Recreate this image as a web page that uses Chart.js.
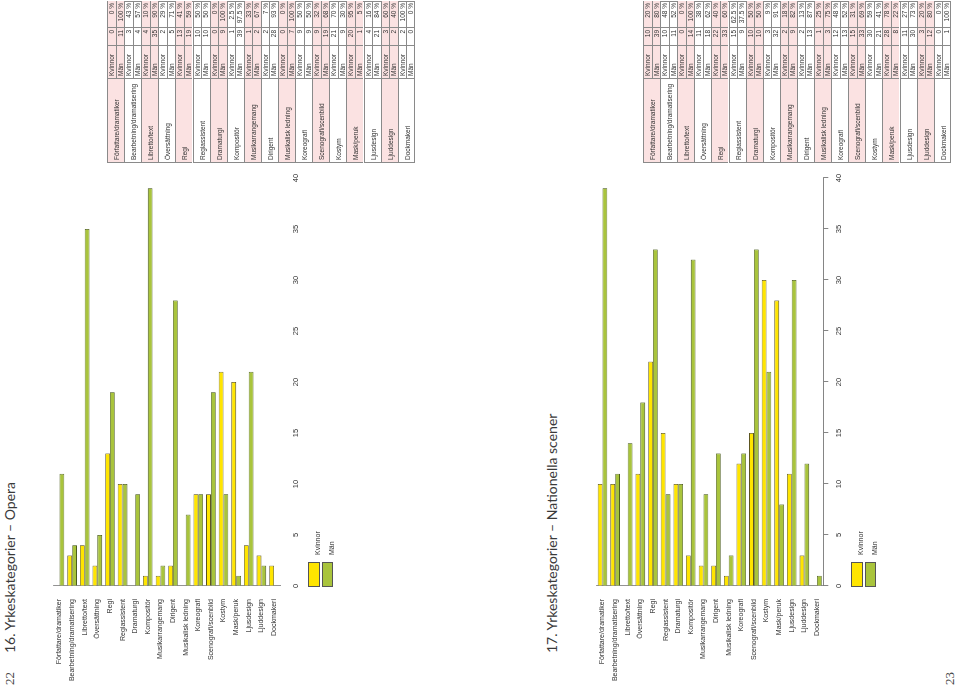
<!DOCTYPE html>
<html>
<head>
<meta charset="utf-8">
<script src="https://cdn.jsdelivr.net/npm/chart.js@4.4.1/dist/chart.umd.min.js"></script>
<style>
  html, body { margin: 0; padding: 0; background: #fff; }
  body { width: 960px; height: 685px; overflow: hidden; position: relative; }
  /* the spread is laid out upright (685 x 960) and then turned a quarter to the left */
  #page { position: absolute; left: 0; top: 0; width: 685px; height: 960px;
          transform-origin: 0 0; transform: translate(0, 685px) rotate(-90deg); }
  .title { position: absolute; left: 32px; font: 14px Lato, 'Open Sans', sans-serif; color: #3a3a3a;
           line-height: 14px; white-space: nowrap; }
  .pagenum { position: absolute; left: 0; font: 13px 'Liberation Serif', serif; color: #444; line-height: 13px; }
  .chart { position: absolute; left: 0; width: 530px; height: 300px; }
  .box { position: absolute; left: 98px; width: 25px; border: 0.6px solid #555; box-sizing: border-box; }
  .leg { position: absolute; left: 130px; font: 7px 'Liberation Sans', Arial, sans-serif; color: #333; line-height: 7px; }
  .tab { position: absolute; left: 522px; width: 162px; box-sizing: border-box;
         border-right: 0.6px solid #8a8a8a; border-bottom: 0.6px solid #8a8a8a;
         font-family: 'Liberation Sans', Arial, sans-serif; font-size: 6.5px; color: #333; }
  .tab div { position: absolute; box-sizing: border-box; border-left: 0.6px solid #8a8a8a;
             border-top: 0.6px solid #8a8a8a; padding: 0 2px; white-space: nowrap; overflow: hidden; }
  .tab div.n { text-align: right; }
  .tab div.pink { background: #fbe2e2; }
</style>
</head>
<body>
<div id="page">
  <div class="pagenum" style="top:3px">22</div>
  <div class="title" style="top:3px">16. Yrkeskategorier – Opera</div>
  <canvas id="opera" class="chart" width="530" height="300" style="top:30px"></canvas>
  <div class="box" style="top:308px;height:12px;background:#ffe500"></div>
  <div class="box" style="top:322px;height:11px;background:#a9c43c"></div>
  <div class="leg" style="top:314px">Kvinnor</div>
  <div class="leg" style="top:328px">Män</div>

  <div class="pagenum" style="top:943px">23</div>
  <div class="title" style="top:545px">17. Yrkeskategorier – Nationella scener</div>
  <canvas id="nationella" class="chart" width="530" height="300" style="top:573px"></canvas>
  <div class="box" style="top:851px;height:12px;background:#ffe500"></div>
  <div class="box" style="top:865px;height:11px;background:#a9c43c"></div>
  <div class="leg" style="top:857px">Kvinnor</div>
  <div class="leg" style="top:871px">Män</div>
</div>
<script>
// categories shared by both pages
const categories = ['Författare/dramatiker', 'Bearbetning/dramatisering', 'Libretto/text', 'Översättning',
  'Regi', 'Regiassistent', 'Dramaturgi', 'Kompositör', 'Musikarrangemang', 'Dirigent',
  'Musikalisk ledning', 'Koreografi', 'Scenografi/scenbild', 'Kostym', 'Mask/peruk',
  'Ljusdesign', 'Ljuddesign', 'Dockmakeri'];

// value axis
const axisMin = 0;
const axisMax = 40;
const axisStep = 5;

// 16. Opera
const operaKvinnor = [0, 3, 4, 2, 13, 10, 0, 1, 1, 2, 0, 9, 9, 21, 20, 4, 3, 2];
const operaMan = [11, 4, 35, 5, 19, 10, 9, 39, 2, 28, 7, 9, 19, 9, 1, 21, 2, 0];
const operaKvinnorPct = ['0 %', '43 %', '10 %', '29 %', '41 %', '50 %', '0 %', '2.5 %', '33 %', '7 %',
  '0 %', '50 %', '32 %', '70 %', '95 %', '16 %', '60 %', '100 %'];
const operaManPct = ['100 %', '57 %', '90 %', '71 %', '59 %', '50 %', '100 %', '97.5 %', '67 %', '93 %',
  '100 %', '50 %', '68 %', '30 %', '5 %', '84 %', '40 %', '0 %'];

// 17. Nationella scener
const natKvinnor = [10, 10, 0, 11, 22, 15, 10, 3, 2, 2, 1, 12, 15, 30, 28, 11, 3, 0];
const natMan = [39, 11, 14, 18, 33, 9, 10, 32, 9, 13, 3, 13, 33, 21, 8, 30, 12, 1];
const natKvinnorPct = ['20 %', '48 %', '0 %', '38 %', '40 %', '62.5 %', '50 %', '9 %', '18 %', '13 %',
  '25 %', '48 %', '31 %', '59 %', '78 %', '27 %', '20 %', '0 %'];
const natManPct = ['80 %', '52 %', '100 %', '62 %', '60 %', '37.5 %', '50 %', '91 %', '82 %', '87 %',
  '75 %', '52 %', '69 %', '41 %', '22 %', '73 %', '80 %', '100 %'];

const font = "'Liberation Sans', Arial, sans-serif";

function makeChart(id, kvinnor, man, axisLine) {
  new Chart(document.getElementById(id), {
    type: 'bar',
    data: {
      labels: categories,
      datasets: [
        { label: 'Kvinnor', data: kvinnor, backgroundColor: '#ffe500', borderColor: '#5c5520',
          borderWidth: 0.8, categoryPercentage: 0.76, barPercentage: 1 },
        { label: 'Män', data: man, backgroundColor: '#a9c43c', borderColor: '#4b5c1e',
          borderWidth: 0.8, categoryPercentage: 0.76, barPercentage: 1 }
      ]
    },
    options: {
      indexAxis: 'y',
      responsive: false,
      animation: false,
      devicePixelRatio: 1,
      layout: { padding: { top: 23.2, right: 23, left: 0, bottom: 0 } },
      plugins: { legend: { display: false }, tooltip: { enabled: false } },
      scales: {
        x: {
          min: axisMin, max: axisMax,
          ticks: { stepSize: axisStep, font: { family: font, size: 7.5 }, color: '#333', padding: 6, maxRotation: 0 },
          grid: { display: true, drawOnChartArea: false, drawTicks: true, tickLength: 5,
                  color: axisLine ? '#666' : 'rgba(0,0,0,0)', lineWidth: 0.8 },
          border: { display: axisLine, color: '#666', width: 0.8 },
          afterFit: s => { s.height = 49.7; }
        },
        y: {
          ticks: { font: { family: font, size: 7 }, color: '#333', padding: 5, autoSkip: false },
          grid: { display: false },
          border: { display: true, color: '#777', width: 0.8 },
          afterFit: s => { s.width = 99; }
        }
      }
    }
  });
}

// table: one block of two rows per category, cells placed by hand so rows stay 8.55px
const rowH = 8.55;
const cols = [[0, 84], [84, 33], [117, 18], [135, 27]];

function cell(parent, col, top, h, text, cls) {
  const d = document.createElement('div');
  d.className = cls;
  d.style.left = cols[col][0] + 'px';
  d.style.width = cols[col][1] + 'px';
  d.style.top = top + 'px';
  d.style.height = h + 'px';
  d.style.lineHeight = h + 'px';
  d.textContent = text;
  parent.appendChild(d);
}

function makeTable(top, kv, ma, kvPct, maPct) {
  const t = document.createElement('div');
  t.className = 'tab';
  t.style.top = top + 'px';
  t.style.height = (categories.length * 2 * rowH + 0.6) + 'px';
  categories.forEach((c, i) => {
    const pink = i % 2 === 0 ? 'pink' : '';
    const y = i * 2 * rowH;
    cell(t, 0, y, 2 * rowH, c, pink);
    cell(t, 1, y, rowH, 'Kvinnor', pink);
    cell(t, 2, y, rowH, kv[i], pink + ' n');
    cell(t, 3, y, rowH, kvPct[i], pink + ' n');
    cell(t, 1, y + rowH, rowH, 'Män', pink);
    cell(t, 2, y + rowH, rowH, ma[i], pink + ' n');
    cell(t, 3, y + rowH, rowH, maPct[i], pink + ' n');
  });
  document.getElementById('page').appendChild(t);
}

makeChart('opera', operaKvinnor, operaMan, false);
makeChart('nationella', natKvinnor, natMan, true);
makeTable(107, operaKvinnor, operaMan, operaKvinnorPct, operaManPct);
makeTable(643, natKvinnor, natMan, natKvinnorPct, natManPct);
</script>
</body>
</html>
